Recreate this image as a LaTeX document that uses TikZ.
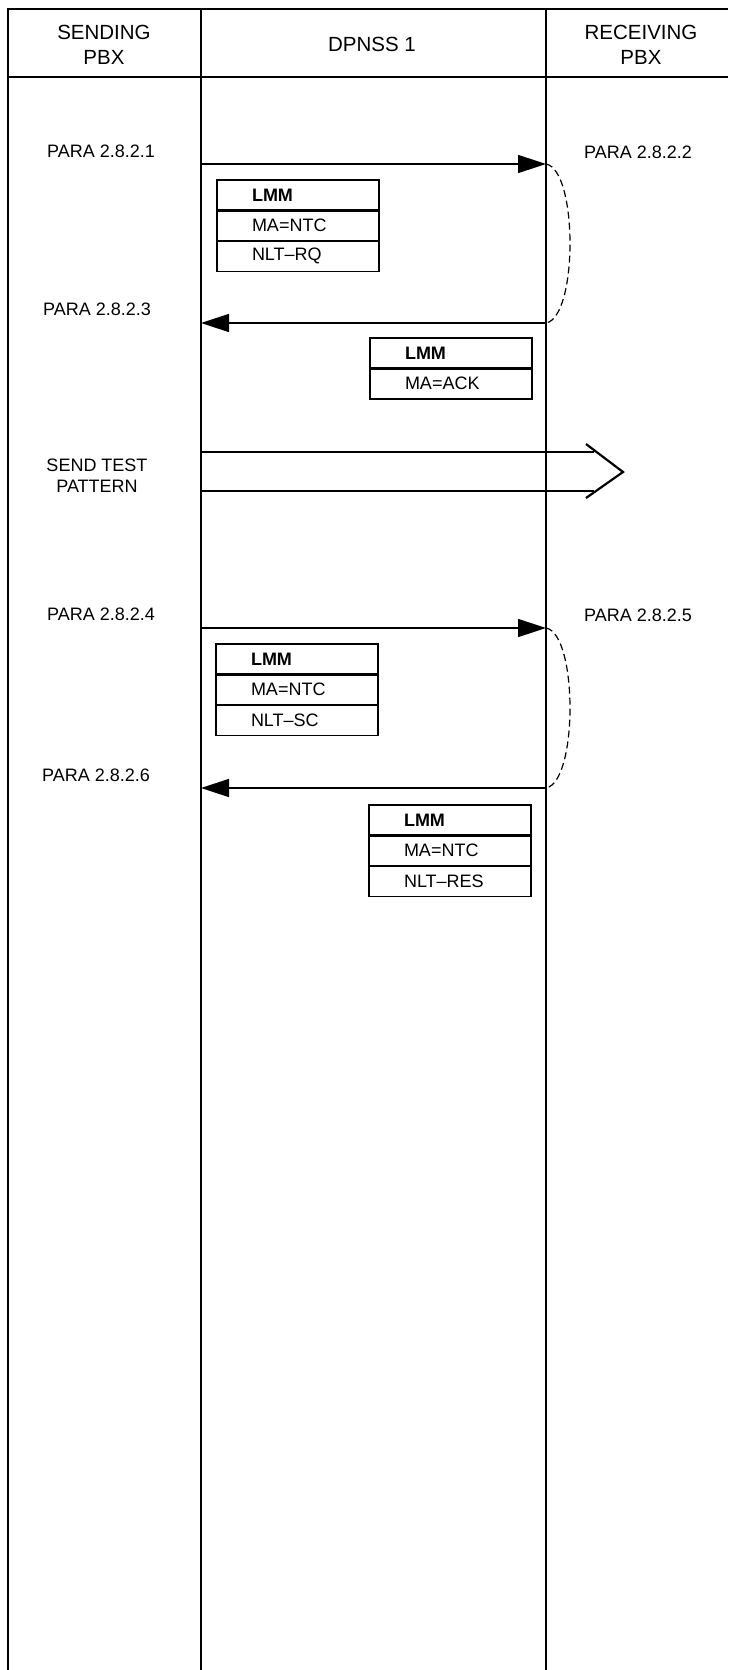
\documentclass[tikz,border=0pt]{standalone}
\usepackage{fontspec}
\setmainfont{Liberation Sans}
\usetikzlibrary{arrows.meta,positioning}

\begin{document}
\begin{tikzpicture}[x=1pt, y=-1pt,
  every node/.style={font=\fontsize{18}{21}\selectfont},
  frameline/.style={line width=2.6pt},
  headtext/.style={align=center, inner sep=0pt, font=\fontsize{20.5}{25}\selectfont},
  lbl/.style={align=center, inner sep=0pt},
  msg/.style={line width=1.5pt, -{Triangle[length=28pt,width=18pt]}},
  loopback/.style={line width=1.2pt, dash pattern=on 7pt off 4pt},
  pattern/.style={line width=2.2pt},
  lmmrow/.style={draw, line width=1.3pt, outer sep=0pt, minimum height=30.5pt,
    text width=92pt, inner xsep=35pt, inner ysep=0pt, align=left},
  lmmhead/.style={lmmrow, line width=2.8pt, font=\fontsize{18}{21}\selectfont\bfseries}]

\useasboundingbox (0,0) rectangle (728,1670);

% Frame and lifelines
\draw[frameline] (8,1670) -- (8,9) -- (728,9);
\draw[frameline] (8,77) -- (728,77);
\draw[frameline] (201,9) -- (201,1670);
\draw[frameline] (546,9) -- (546,1670);

% Header
\node[headtext] (hsend) at (104,45) {SENDING\\PBX};
\node[headtext] (hdpnss) at (372,44) {DPNSS 1};
\node[headtext] (hrecv) at (641,45) {RECEIVING\\PBX};

% Request / acknowledge
\coordinate (m1s) at (201,164);
\coordinate (m1e) at (546,164);
\coordinate (m2s) at (546,323);
\coordinate (m2e) at (201,323);
\node[lbl] (p1) at (101,151) {PARA 2.8.2.1};
\node[lbl] (p2) at (638,152) {PARA 2.8.2.2};
\node[lbl] (p3) at (97,309) {PARA 2.8.2.3};
\draw[msg] (m1s) -- (m1e);
\draw[loopback] (m1e) .. controls (578,170) and (578,317) .. (m2s);
\draw[msg] (m2s) -- (m2e);

\node[lmmhead, anchor=north west] (b1h) at (217,180) {LMM};
\node[lmmrow, below=0pt of b1h] (b1a) {MA=NTC};
\node[lmmrow, below=0pt of b1a] (b1b) {NLT--RQ};

\node[lmmhead, anchor=north west] (b2h) at (370,338) {LMM};
\node[lmmrow, below=0pt of b2h] (b2a) {MA=ACK};

% Test pattern
\node[lbl] (tp) at (97,476) {SEND TEST\\PATTERN};
\coordinate (t1s) at (201,452);
\coordinate (t1e) at (594,452);
\coordinate (t2s) at (201,491);
\coordinate (t2e) at (594,491);
\coordinate (cvtop) at (586,444);
\coordinate (cvtip) at (623,472);
\coordinate (cvbot) at (586,498);
\draw[pattern] (t1s) -- (t1e);
\draw[pattern] (t2s) -- (t2e);
\draw[pattern] (cvtop) -- (cvtip) -- (cvbot);

% Set-up / result
\coordinate (m3s) at (201,628);
\coordinate (m3e) at (546,628);
\coordinate (m4s) at (546,788);
\coordinate (m4e) at (201,788);
\node[lbl] (p4) at (101,614) {PARA 2.8.2.4};
\node[lbl] (p5) at (638,615) {PARA 2.8.2.5};
\node[lbl] (p6) at (96,775) {PARA 2.8.2.6};
\draw[msg] (m3s) -- (m3e);
\draw[loopback] (m3e) .. controls (578,634) and (578,782) .. (m4s);
\draw[msg] (m4s) -- (m4e);

\node[lmmhead, anchor=north west] (b3h) at (216,644) {LMM};
\node[lmmrow, below=0pt of b3h] (b3a) {MA=NTC};
\node[lmmrow, below=0pt of b3a] (b3b) {NLT--SC};

\node[lmmhead, anchor=north west] (b4h) at (369,805) {LMM};
\node[lmmrow, below=0pt of b4h] (b4a) {MA=NTC};
\node[lmmrow, below=0pt of b4a] (b4b) {NLT--RES};

\end{tikzpicture}
\end{document}
